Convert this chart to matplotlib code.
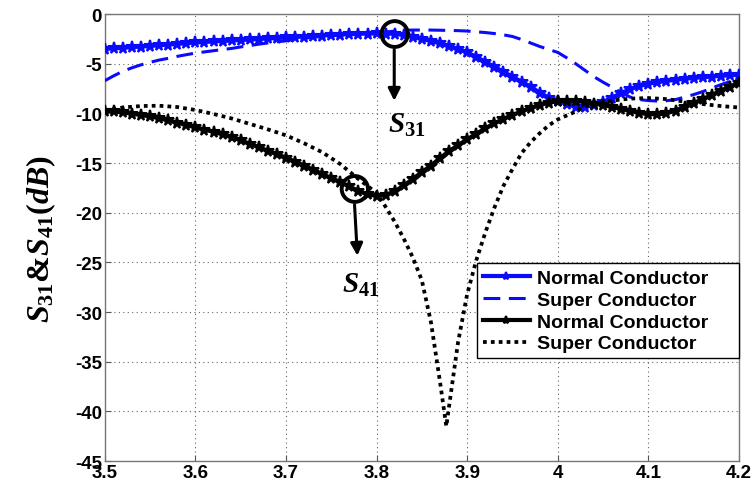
import matplotlib
matplotlib.use("Agg")
import matplotlib.pyplot as plt
from matplotlib.patches import Ellipse

plt.rcParams['font.family'] = ['Liberation Sans', 'DejaVu Sans']
plt.rcParams['font.weight'] = 'bold'
plt.rcParams['axes.unicode_minus'] = False
plt.rcParams['mathtext.fontset'] = 'custom'
plt.rcParams['mathtext.it'] = 'Liberation Serif:italic:bold'
plt.rcParams['mathtext.rm'] = 'Liberation Serif:bold'
plt.rcParams['mathtext.bf'] = 'Liberation Serif:bold'

freq = [3.50, 3.51, 3.52, 3.53, 3.54, 3.55, 3.56, 3.57, 3.58, 3.59,
        3.60, 3.61, 3.62, 3.63, 3.64, 3.65, 3.66, 3.67, 3.68, 3.69,
        3.70, 3.71, 3.72, 3.73, 3.74, 3.75, 3.76, 3.77, 3.78, 3.79,
        3.80, 3.81, 3.82, 3.83, 3.84, 3.85, 3.86, 3.87, 3.88, 3.89,
        3.90, 3.91, 3.92, 3.93, 3.94, 3.95, 3.96, 3.97, 3.98, 3.99,
        4.00, 4.01, 4.02, 4.03, 4.04, 4.05, 4.06, 4.07, 4.08, 4.09,
        4.10, 4.11, 4.12, 4.13, 4.14, 4.15, 4.16, 4.17, 4.18, 4.19, 4.20]

s31_normal = [-3.50, -3.44, -3.38, -3.32, -3.26, -3.20, -3.13, -3.06, -2.99, -2.92,
              -2.85, -2.80, -2.75, -2.70, -2.65, -2.60, -2.55, -2.50, -2.45, -2.40,
              -2.35, -2.30, -2.25, -2.20, -2.15, -2.10, -2.05, -2.01, -1.98, -1.95,
              -1.94, -1.95, -1.98, -2.10, -2.30, -2.50, -2.70, -2.95, -3.25, -3.55,
              -3.85, -4.30, -4.80, -5.30, -5.80, -6.30, -6.80, -7.30, -7.90, -8.40,
              -8.70, -9.05, -9.35, -9.35, -9.15, -8.85, -8.40, -7.95, -7.55, -7.25,
              -7.00, -6.85, -6.72, -6.60, -6.50, -6.42, -6.35, -6.28, -6.20, -6.15, -6.10]

s31_super = [-6.70, -6.20, -5.75, -5.40, -5.10, -4.85, -4.62, -4.45, -4.25, -4.08,
             -3.92, -3.80, -3.68, -3.56, -3.45, -3.30, -3.16, -3.02, -2.90, -2.78,
             -2.68, -2.55, -2.43, -2.32, -2.24, -2.18, -2.10, -2.03, -1.97, -1.92,
             -1.88, -1.80, -1.70, -1.62, -1.60, -1.60, -1.60, -1.62, -1.64, -1.66,
             -1.70, -1.78, -1.85, -1.95, -2.08, -2.25, -2.55, -2.90, -3.25, -3.55,
             -3.85, -4.40, -5.00, -5.65, -6.30, -6.85, -7.35, -7.90, -8.35, -8.60,
             -8.70, -8.75, -8.72, -8.60, -8.35, -8.10, -7.80, -7.45, -7.10, -6.80, -6.50]

s41_normal = [-9.70, -9.80, -9.90, -10.02, -10.15, -10.30, -10.48, -10.70, -10.92, -11.15,
              -11.40, -11.62, -11.85, -12.10, -12.40, -12.70, -13.05, -13.40, -13.75, -14.10,
              -14.45, -14.85, -15.25, -15.65, -16.10, -16.50, -16.90, -17.35, -17.80, -18.15,
              -18.30, -18.20, -17.85, -17.25, -16.60, -15.90, -15.25, -14.50, -13.80, -13.20,
              -12.60, -12.05, -11.50, -11.00, -10.55, -10.15, -9.80, -9.45, -9.15, -8.92,
              -8.75, -8.70, -8.75, -8.85, -9.00, -9.15, -9.35, -9.55, -9.75, -9.95,
              -10.05, -10.10, -9.98, -9.70, -9.35, -8.95, -8.55, -8.15, -7.70, -7.30, -6.90]

freq_s41_super = [3.50, 3.52, 3.54, 3.56, 3.58, 3.60, 3.62, 3.64, 3.66, 3.68,
                  3.70, 3.72, 3.74, 3.76, 3.78, 3.79, 3.80, 3.81, 3.82, 3.83,
                  3.84, 3.85, 3.86, 3.87, 3.877, 3.88, 3.89, 3.90, 3.91, 3.92,
                  3.93, 3.94, 3.95, 3.96, 3.97, 3.98, 3.99, 4.00, 4.01, 4.02,
                  4.03, 4.04, 4.06, 4.08, 4.10, 4.12, 4.14, 4.16, 4.18, 4.20]
s41_super = [-9.70, -9.40, -9.25, -9.22, -9.35, -9.65, -10.05, -10.50, -11.05, -11.60,
             -12.20, -13.00, -13.90, -15.10, -16.60, -17.30, -18.00, -19.40, -20.90, -22.60,
             -24.50, -26.80, -31.00, -37.00, -41.50, -39.50, -33.00, -28.20, -24.80, -22.00,
             -19.50, -17.30, -15.60, -14.00, -12.90, -12.00, -11.20, -10.60, -10.20, -9.80,
             -9.30, -9.00, -8.70, -8.50, -8.45, -8.55, -8.80, -9.05, -9.25, -9.40]

legend_labels = ['Normal Conductor', 'Super Conductor', 'Normal Conductor', 'Super Conductor']
xticks = [3.5, 3.6, 3.7, 3.8, 3.9, 4.0, 4.1, 4.2]
xticklabels = ['3.5', '3.6', '3.7', '3.8', '3.9', '4', '4.1', '4.2']
yticks = [0, -5, -10, -15, -20, -25, -30, -35, -40, -45]
yticklabels = ['0', '-5', '-10', '-15', '-20', '-25', '-30', '-35', '-40', '-45']

BLUE = '#0a0aff'

fig = plt.figure(figsize=(7.54, 4.89), dpi=100)
ax = fig.add_axes([0.139, 0.055, 0.841, 0.914])

ax.plot(freq, s31_normal, color=BLUE, lw=3.0, marker='*', markersize=8.5,
        markeredgewidth=1.5, label=legend_labels[0], zorder=3)
ax.plot(freq, s31_super, color=BLUE, lw=2.2, linestyle=(0, (5.5, 2.8)),
        label=legend_labels[1], zorder=3)
ax.plot(freq, s41_normal, color='black', lw=3.0, marker='*', markersize=8.5,
        markeredgewidth=1.5, label=legend_labels[2], zorder=3)
ax.plot(freq_s41_super, s41_super, color='black', lw=2.7, linestyle=(0, (1, 1.1)),
        label=legend_labels[3], zorder=3)

ax.set_xlim(3.5, 4.2)
ax.set_ylim(-45, 0)
ax.set_xticks(xticks)
ax.set_xticklabels(xticklabels)
ax.set_yticks(yticks)
ax.set_yticklabels(yticklabels)
ax.tick_params(direction='in', labelsize=13.5, length=4, color='#555555', pad=2)
for lab in ax.get_xticklabels() + ax.get_yticklabels():
    lab.set_fontweight('bold')
ax.grid(True, linestyle=(0, (1, 3)), color='#666666', lw=0.8)
for sp in ax.spines.values():
    sp.set_color('#777777')
    sp.set_linewidth(1.0)

ax.set_ylabel(r'$S_{31}$&$S_{41}(dB)$', fontsize=23, fontweight='bold',
              family='Liberation Serif', labelpad=12)

# annotation circles and arrows
ax.add_patch(Ellipse((3.82, -2.0), 0.029, 2.6, fill=False, lw=2.8,
                     edgecolor='black', zorder=5))
ax.annotate('', xy=(3.8195, -9.0), xytext=(3.8195, -3.3),
            arrowprops=dict(arrowstyle='-|>', color='black', lw=2.2,
                            mutation_scale=18), zorder=5)
ax.text(3.833, -11.1, r'$S_{31}$', fontsize=21, ha='center', va='center', zorder=5)

ax.add_patch(Ellipse((3.776, -17.6), 0.029, 2.6, fill=False, lw=2.8,
                     edgecolor='black', zorder=5))
ax.annotate('', xy=(3.779, -24.6), xytext=(3.7755, -18.9),
            arrowprops=dict(arrowstyle='-|>', color='black', lw=2.2,
                            mutation_scale=18), zorder=5)
ax.text(3.782, -27.2, r'$S_{41}$', fontsize=21, ha='center', va='center', zorder=5)

leg = ax.legend(loc='lower left', bbox_to_anchor=(0.587, 0.23, 0.413, 0.213),
                mode='expand', fancybox=False,
                framealpha=1, edgecolor='black', borderpad=0.3, labelspacing=0.22,
                handlelength=2.4, handletextpad=0.4, borderaxespad=0,
                prop={'weight': 'bold', 'size': 14})
leg.get_frame().set_linewidth(1.0)
for h in leg.get_lines():
    h.set_markersize(6)

fig.savefig('out.png', dpi=100)
